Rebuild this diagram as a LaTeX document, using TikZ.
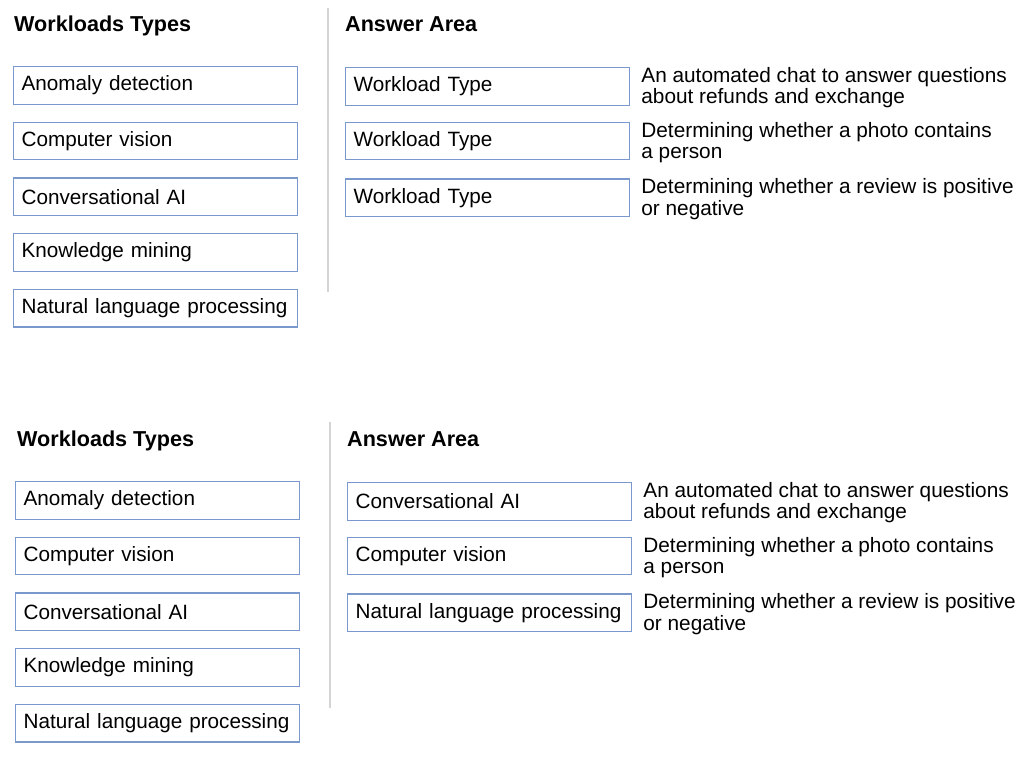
\documentclass[tikz,border=0pt]{standalone}
\usepackage{fontspec}
\setmainfont{Liberation Sans}
\usepackage{xcolor}
\usepackage{tikz}
\usetikzlibrary{positioning}
\definecolor{boxblue}{RGB}{122, 152, 204}
\definecolor{rulegray}{RGB}{212, 212, 212}

\begin{document}
\begin{tikzpicture}[
    x=1pt, y=-1pt,
    heading/.style={anchor=base west, inner sep=0pt, font=\fontsize{21.6}{21.6}\selectfont\bfseries},
    choice/.style={draw=boxblue, line width=1.2pt, minimum width=284pt, minimum height=37.5pt, text width=268pt, inner xsep=8pt, inner ysep=0pt, align=left, font=\fontsize{20.7}{21}\selectfont},
    desc/.style={inner sep=0pt, align=left, yshift=-1.5pt, font=\fontsize{20.8}{21.5}\selectfont},
    sepline/.style={rulegray, line width=1.2pt}
]
    \useasboundingbox (0,0) rectangle (1032,758);

    % Top panel - choices
    \node[heading] (types1) at (14,31) {Workloads Types};
    \node[choice, anchor=north west] (anomaly1) at (13,66) {Anomaly detection};
    \node[choice, below=17pt of anomaly1] (vision1) {Computer vision};
    \node[choice, below=17pt of vision1] (conv1) {Conversational AI};
    \node[choice, below=17pt of conv1] (mining1) {Knowledge mining};
    \node[choice, below=17pt of mining1] (nlp1) {Natural language processing};

    % Top panel - separator
    \coordinate (sepTop1) at (328,8);
    \coordinate (sepBot1) at (328,292);
    \draw[sepline] (sepTop1) -- (sepBot1);

    % Top panel - answer area
    \node[heading] (answer1) at (345,31) {Answer Area};
    \node[choice, anchor=north west] (slotA1) at (345,67) {Workload Type};
    \node[choice, below=16pt of slotA1] (slotB1) {Workload Type};
    \node[choice, below=18pt of slotB1] (slotC1) {Workload Type};
    \node[desc, right=11pt of slotA1] (chat1) {An automated chat to answer questions\\about refunds and exchange};
    \node[desc, right=11pt of slotB1] (photo1) {Determining whether a photo contains\\a person};
    \node[desc, right=11pt of slotC1] (review1) {Determining whether a review is positive\\or negative};

    % Bottom panel - choices
    \node[heading] (types2) at (17,446) {Workloads Types};
    \node[choice, anchor=north west] (anomaly2) at (15,481) {Anomaly detection};
    \node[choice, below=17pt of anomaly2] (vision2) {Computer vision};
    \node[choice, below=17pt of vision2] (conv2) {Conversational AI};
    \node[choice, below=17pt of conv2] (mining2) {Knowledge mining};
    \node[choice, below=17pt of mining2] (nlp2) {Natural language processing};

    % Bottom panel - separator
    \coordinate (sepTop2) at (330,422);
    \coordinate (sepBot2) at (330,708);
    \draw[sepline] (sepTop2) -- (sepBot2);

    % Bottom panel - answer area
    \node[heading] (answer2) at (347,446) {Answer Area};
    \node[choice, anchor=north west] (slotA2) at (347,482) {Conversational AI};
    \node[choice, below=16pt of slotA2] (slotB2) {Computer vision};
    \node[choice, below=18pt of slotB2] (slotC2) {Natural language processing};
    \node[desc, right=11pt of slotA2] (chat2) {An automated chat to answer questions\\about refunds and exchange};
    \node[desc, right=11pt of slotB2] (photo2) {Determining whether a photo contains\\a person};
    \node[desc, right=11pt of slotC2] (review2) {Determining whether a review is positive\\or negative};
\end{tikzpicture}
\end{document}
